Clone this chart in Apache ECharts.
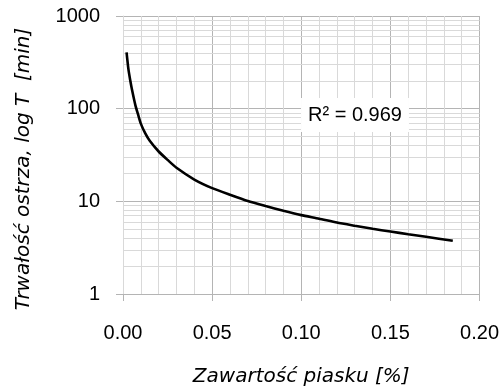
<!DOCTYPE html>
<html>
<head>
<meta charset="utf-8">
<script src="https://cdn.jsdelivr.net/npm/echarts@6/dist/echarts.min.js"></script>
<style>
  html, body { margin: 0; padding: 0; background: #fff; }
  #chart { width: 502px; height: 392px; }
</style>
</head>
<body>
<div id="chart"></div>
<script>
// sand content [%] vs tool life T [min]
const sandContent = [0.002, 0.003, 0.004, 0.005, 0.007, 0.0085, 0.010, 0.0125, 0.015, 0.020,
  0.025, 0.030, 0.040, 0.050, 0.060, 0.070, 0.080, 0.090, 0.100, 0.110,
  0.120, 0.130, 0.140, 0.150, 0.160, 0.170, 0.185];
const toolLife = [405, 270, 205, 162, 108, 86, 69, 54, 45, 34.5,
  28, 23, 17.2, 13.9, 11.8, 10.1, 8.9, 7.9, 7.1, 6.5,
  5.9, 5.45, 5.05, 4.72, 4.42, 4.15, 3.75];
const xTicks = [0, 0.05, 0.1, 0.15, 0.2];
const yTicks = [1, 10, 100, 1000];
// minor log grid lines 2..9 of every decade
const yMinorLines = [2, 3, 4, 5, 6, 7, 8, 9, 20, 30, 40, 50, 60, 70, 80, 90,
  200, 300, 400, 500, 600, 700, 800, 900];
const r2Text = "R² = 0.969";

const chart = echarts.init(document.getElementById("chart"), null, { renderer: "canvas" });

const majorColor = "#b4b4b4";
const minorColor = "#d9d9d9";
const labelFont = "Liberation Sans";
const titleFont = "DejaVu Sans";

chart.setOption({
  animation: false,
  backgroundColor: "#fff",
  grid: { left: 123, right: 21, top: 16, bottom: 96 },
  xAxis: {
    type: "value",
    min: xTicks[0],
    max: xTicks[xTicks.length - 1],
    interval: 0.05,
    name: "Zawartość piasku [%]",
    nameLocation: "middle",
    nameGap: 73,
    nameTextStyle: { fontFamily: titleFont, fontStyle: "italic", fontSize: 20, color: "#000" },
    axisLine: { show: true, lineStyle: { color: majorColor, width: 1 } },
    axisTick: { show: true, length: 7, lineStyle: { color: majorColor } },
    axisLabel: {
      margin: 29,
      fontFamily: labelFont,
      fontSize: 20,
      color: "#000",
      showMinLabel: true,
      showMaxLabel: true,
      formatter: (v) => v.toFixed(2)
    },
    splitLine: { show: true, lineStyle: { color: majorColor, width: 1 } },
    minorTick: { show: false, splitNumber: 5 },
    minorSplitLine: { show: true, lineStyle: { color: minorColor, width: 1 } }
  },
  yAxis: {
    type: "log",
    logBase: 10,
    min: yTicks[0],
    max: yTicks[yTicks.length - 1],
    name: "Trwałość ostrza, log T  [min]",
    nameLocation: "middle",
    nameGap: 89,
    nameRotate: 90,
    nameTextStyle: {
      fontFamily: titleFont, fontStyle: "italic", fontSize: 20, color: "#000",
      padding: [0, 28, 0, 0]
    },
    axisLine: { show: true, lineStyle: { color: minorColor, width: 1 } },
    axisTick: { show: true, length: 7, lineStyle: { color: majorColor } },
    axisLabel: {
      margin: 23,
      fontFamily: labelFont,
      fontSize: 20,
      color: "#000",
      formatter: (v) => String(Math.round(v))
    },
    splitLine: { show: true, lineStyle: { color: majorColor, width: 1 } }
  },
  graphic: [
    {
      type: "text",
      x: 355,
      y: 115,
      z: 100,
      style: {
        text: r2Text,
        fontFamily: labelFont,
        fontSize: 20,
        fill: "#000",
        align: "center",
        verticalAlign: "middle",
        backgroundColor: "#fff",
        padding: [7, 7, 7, 7]
      }
    }
  ],
  series: [
    {
      name: "minor grid",
      type: "line",
      data: [],
      silent: true,
      z: 1,
      markLine: {
        silent: true,
        symbol: "none",
        animation: false,
        label: { show: false },
        lineStyle: { color: minorColor, width: 1, type: "solid" },
        data: yMinorLines.map((v) => ({ yAxis: v }))
      }
    },
    {
      name: "T",
      type: "line",
      z: 5,
      smooth: 0.2,
      showSymbol: false,
      symbol: "none",
      lineStyle: { color: "#000", width: 2.6 },
      data: sandContent.map((x, i) => [x, toolLife[i]])
    }
  ]
});
</script>
</body>
</html>
